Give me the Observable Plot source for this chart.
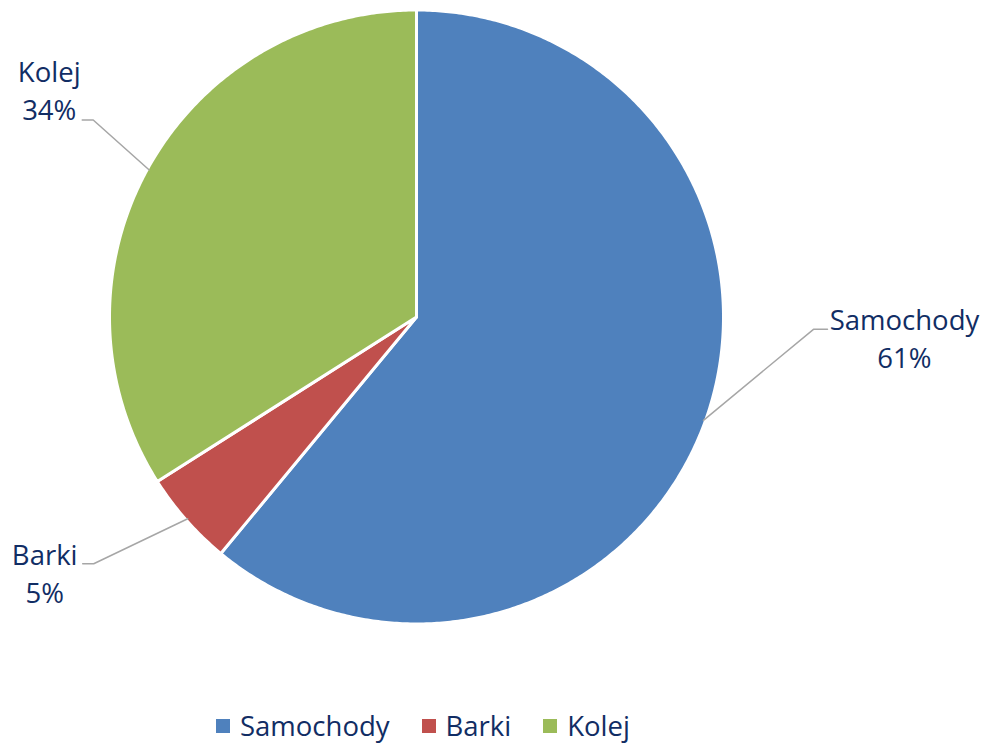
<!DOCTYPE html>
<html><head><meta charset="utf-8">
<script src="https://cdn.jsdelivr.net/npm/d3@7"></script>
<script src="https://cdn.jsdelivr.net/npm/@observablehq/plot@0.6"></script>
<style>
body{margin:0;background:#fff;font-family:"Open Sans",sans-serif;}
#wrap{position:relative;width:986px;height:743px;overflow:hidden;}
#legend{position:absolute;left:216px;top:707px;height:38px;display:flex;align-items:center;font-size:27.5px;color:#112D64;white-space:nowrap;line-height:38px;}
.sw{display:inline-block;width:14px;height:14px;margin-right:10px;}
.it{display:flex;align-items:center;margin-right:32px;}
</style>
</head><body>
<div id="wrap"><div id="chart"></div><div id="legend"></div></div>
<script>
// ---- data ----
const categories = ["Samochody", "Barki", "Kolej"];
const values = [61, 5, 34];
const percentLabels = ["61%", "5%", "34%"];
const colors = ["#4F81BD", "#C0504D", "#9BBB59"];

// ---- label layout offsets (pixels) ----
const elbowDx = [110, -94, -56];
const elbowDy = [-91, 45, -50];
const endDx = [14, -11, -11];
const textDx = [77, -38, -33];
const textDy = [1, 1, -38];
const lineGap = 38;

// ---- geometry ----
const W = 986, H = 743, CX = 416, CY = 316.5, R = 305;
const OUTER = (R + 2) / R; // compensate for white outline
const px2x = p => (p - CX) / R;
const py2y = p => -(p - CY) / R;
const dpx = d => d / R;

const pie = d3.pie().sort(null).value(d => d.value);
const arcs = pie(categories.map((c, i) => ({cat: c, value: values[i], i})));

const polys = [];
arcs.forEach(a => {
  const n = Math.max(2, Math.ceil((a.endAngle - a.startAngle) / (Math.PI / 360)));
  polys.push({cat: a.data.cat, x: 0, y: 0});
  for (let k = 0; k <= n; k++) {
    const t = a.startAngle + (a.endAngle - a.startAngle) * k / n;
    polys.push({cat: a.data.cat, x: OUTER * Math.sin(t), y: OUTER * Math.cos(t)});
  }
  polys.push({cat: a.data.cat, x: 0, y: 0});
});

const leaders = [];
const nameLabels = [];
const pctLabels = [];
arcs.forEach(a => {
  const i = a.data.i;
  const m = (a.startAngle + a.endAngle) / 2;
  const ex = Math.sin(m), ey = Math.cos(m);
  const bx = ex + dpx(elbowDx[i]), by = ey - dpx(elbowDy[i]);
  const fx = bx + dpx(endDx[i]), fy = by;
  leaders.push({cat: a.data.cat, x: ex, y: ey}, {cat: a.data.cat, x: bx, y: by}, {cat: a.data.cat, x: fx, y: fy});
  const tx = fx + dpx(textDx[i]), ty = fy - dpx(textDy[i]);
  nameLabels.push({x: tx, y: ty, text: a.data.cat});
  pctLabels.push({x: tx, y: ty - dpx(lineGap), text: percentLabels[i]});
});

const chart = Plot.plot({
  width: W, height: H,
  margin: 0,
  x: {domain: [px2x(0), px2x(W)], axis: null},
  y: {domain: [py2y(H), py2y(0)], axis: null},
  color: {domain: categories, range: colors},
  style: {fontFamily: "Open Sans", background: "#fff"},
  marks: [
    Plot.line(polys, {x: "x", y: "y", z: "cat", fill: "cat", stroke: "#fff", strokeWidth: 3, strokeLinejoin: "round", curve: "linear"}),
    Plot.line(leaders, {x: "x", y: "y", z: "cat", stroke: "#A6A6A6", strokeWidth: 1.5}),
    Plot.text(nameLabels, {x: "x", y: "y", text: "text", lineAnchor: "bottom", textAnchor: "middle", fontSize: 27.5, fill: "#112D64"}),
    Plot.text(pctLabels, {x: "x", y: "y", text: "text", lineAnchor: "bottom", textAnchor: "middle", fontSize: 27.5, fill: "#112D64"})
  ]
});
document.getElementById("chart").appendChild(chart);

const lg = document.getElementById("legend");
categories.forEach((c, i) => {
  const it = document.createElement("span");
  it.className = "it";
  const sw = document.createElement("span");
  sw.className = "sw";
  sw.style.background = colors[i];
  it.appendChild(sw);
  it.appendChild(document.createTextNode(c));
  lg.appendChild(it);
});
</script>
</body></html>
